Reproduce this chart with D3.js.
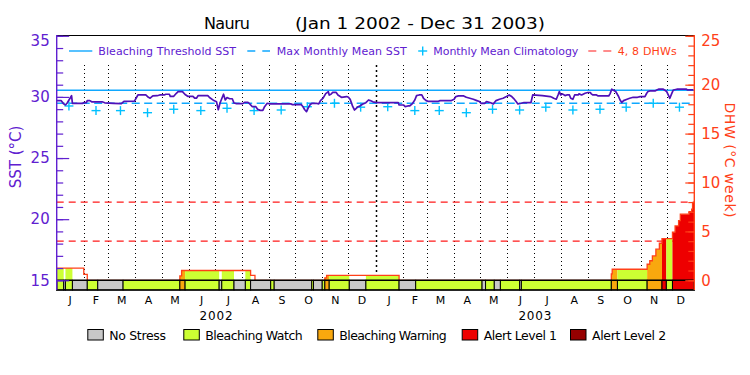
<!DOCTYPE html>
<html><head><meta charset="utf-8">
<script src="https://cdn.jsdelivr.net/npm/d3@7"></script>
<style>body{margin:0;background:#fff}svg{display:block}text{font-family:"DejaVu Sans",sans-serif}</style>
</head><body><svg id="c" width="750" height="375"></svg>
<script>
// ---------------- data ----------------
const monthLetters = ["J","F","M","A","M","J","J","A","S","O","N","D"];
const yearLabels = ["2002","2003"];
const sstMajorTicks = [15,20,25,30,35];
const dhwMajorTicks = [0,5,10,15,20,25];
// SST (days since Jan 1 2002, value °C)
const sstDay = [0,5,8,10,12,17,18,30,31,34,35,38,40,52,55,65,74,77,89,93,102,105,107,110,115,118,123,125,129,130,134,137,139,144,147,150,156,158,160,162,173,175,180,183,185,187,191,193,195,198,201,203,206,213,215,219,221,224,228,230,233,236,238,241,244,268,270,280,282,284,286,288,290,292,297,300,302,305,308,311,312,314,316,320,322,326,332,334,336,339,341,343,345,347,350,354,357,359,362,366,391,392,397,399,402,404,407,410,412,415,418,420,423,425,437,439,452,455,457,460,466,469,473,477,481,484,486,490,492,496,500,503,507,511,515,518,521,523,526,528,532,535,543,545,556,565,567,569,572,574,575.5,577,579,582,584,587,588.5,591,593,597,598,601,605,608,611,612,614,618,620,632,633.5,635.5,637,640,643,645,647,649,653,656,660,665,668,673.5,675.5,677,679,685,687,689,694.5,696,698.4,700.2,702,704,706,710,721,722,729];
const sstValue = [29.7,29.7,29.43,29.34,29.5,30.1,29.48,29.48,29.53,29.53,29.7,29.7,29.6,29.6,29.52,29.48,29.45,29.64,29.66,30.16,30.16,29.97,29.9,30.08,30.1,30.16,30.16,30.22,30.22,30.05,30.05,30.3,30.43,30.43,30.2,30.05,30.05,29.9,29.9,30.11,30.11,29.95,29.7,29.6,28.95,29.5,30.22,29.75,29.95,29.85,29.85,29.5,29.45,29.45,29.55,29.55,29.43,29.2,29.2,29.0,28.9,28.9,29.2,29.48,29.43,29.43,29.37,29.37,29.2,28.95,28.8,29.1,29.35,29.48,29.48,29.43,29.7,29.9,30.27,30.43,30.15,30.22,30.37,30.37,30.16,29.97,30.03,29.97,29.8,29.2,28.93,29.07,29.2,29.25,29.4,29.53,29.75,29.7,29.6,29.54,29.54,29.34,29.34,29.21,29.26,29.26,29.43,29.75,30.11,30.16,30.16,29.89,29.7,29.64,29.64,29.7,29.7,29.81,30.03,30.08,30.08,29.97,29.89,29.81,29.7,29.62,29.48,29.48,29.62,29.54,29.43,29.7,29.81,29.89,30.03,30.16,30.03,29.89,29.62,29.43,29.48,29.54,29.54,30.16,30.1,30.03,29.97,29.89,29.81,30.16,30.44,30.16,30.25,30.11,30.16,30.16,29.89,29.81,30.16,30.16,30.25,30.16,30.3,30.36,30.36,30.25,30.16,30.16,30.08,30.08,30.25,30.63,30.57,30.44,30.08,29.75,29.54,29.7,29.81,29.89,29.97,29.97,30.03,30.03,30.3,30.44,30.49,30.49,30.57,30.63,30.63,30.57,30.44,30.16,29.89,30.25,30.57,30.63,30.63,30.57,30.57];
// Monthly mean climatology, Jan 2002 .. Dec 2003
const climValue = [29.26,28.88,28.88,28.71,28.99,28.88,29.07,28.88,28.93,29.2,29.48,29.16,
                   29.2,28.88,28.88,28.71,28.99,28.93,29.16,28.93,28.99,29.16,29.48,29.16];
const mmmValue = 29.48;
const thresholdValue = 30.55;
const dhwLevels = [4, 8];
// Daily stress level segments (start day, level 0..4)
const statusStart = [0,8,10,18,35,47,76,141,147,186,189,203,216,222,245,249,292,294,304,307,312,335,354,392,411,487,491,501,508,530,532,635,642,676,693,698,705];
const statusLevel = [1,0,1,0,1,0,1,2,1,0,1,0,1,0,1,0,1,0,1,2,1,0,1,0,1,0,1,0,1,0,1,2,1,2,3,1,3];
// Degree heating weeks (step start day, value)
const dhwStart = [0,31,35,141,143,222,227,307,309,392,635,636,676,679,682,686,690,693,705,708,712,714,724,727,728];
const dhwValue = [1.25,0.6,0,0.45,1.0,0.5,0,0.25,0.5,0,0.65,1.13,1.64,2.0,2.49,3.18,3.79,4.26,4.92,5.56,6.1,6.76,7.03,7.27,7.95];
const totalDays = 730;
const statusNames = ["No Stress","Bleaching Watch","Bleaching Warning","Alert Level 1","Alert Level 2"];
const statusColors = ["#c8c8c8","#ccff33","#f9a80e","#ee0000","#960000"];

// ---------------- layout ----------------
const X0 = 56.7, X1 = 694.3, YT = 35.8, YB = 280.3, YBAR = 290;
const PURPLE = "#6020d0", LINE = "#5010b8", BLUE = "#10a8ff", CYAN = "#00c0ff", ORANGE = "#ff4018", RED = "#ff1a1a";
const FONT = '"DejaVu Sans",sans-serif';

const svg = d3.select("#c");
const t0 = Date.UTC(2002,0,1);
const dayToDate = d => new Date(t0 + d*864e5);
const x = d3.scaleUtc().domain([dayToDate(0), dayToDate(totalDays)]).range([X0, X1]);
const xd = d => x(dayToDate(d));
const yS = d3.scaleLinear().domain([15,35]).range([YB, YT]);
const yD = d3.scaleLinear().domain([0,25]).range([YB, YT]);

// title
svg.append("text").attr("x",204).attr("y",29.3).attr("font-size",16).attr("textLength",46).text("Nauru");
svg.append("text").attr("x",295).attr("y",29.3).attr("font-size",16).attr("textLength",250).attr("lengthAdjust","spacingAndGlyphs").text("(Jan 1 2002 - Dec 31 2003)");

// top border
svg.append("line").attr("x1",X0).attr("x2",X1).attr("y1",35.5).attr("y2",35.5).attr("stroke","#000").attr("stroke-width",1.2);

// month grid lines
const monthStarts = d3.utcMonth.range(new Date(Date.UTC(2002,1,1)), new Date(Date.UTC(2004,0,1)));
svg.append("g").selectAll("line").data(monthStarts).join("line")
  .attr("x1",d=>Math.round(x(d))+0.5).attr("x2",d=>Math.round(x(d))+0.5)
  .attr("y1",65).attr("y2",YB)
  .attr("stroke","#000")
  .attr("stroke-width",d=>d.getUTCMonth()===0?1.5:1)
  .attr("stroke-dasharray",d=>d.getUTCMonth()===0?"2,3":"1,3");

// DHW reference lines
svg.append("g").selectAll("line").data(dhwLevels).join("line")
  .attr("x1",X0).attr("x2",X1).attr("y1",d=>yD(d)).attr("y2",d=>yD(d))
  .attr("stroke",RED).attr("stroke-width",1.2).attr("stroke-dasharray","7,5");

// DHW value lookup
function dhwAt(day){ let v = 0; for (let i=0;i<dhwStart.length;i++){ if (dhwStart[i] <= day) v = dhwValue[i]; } return v; }

// DHW fill coloured by status
const area = d3.area().x(p=>xd(p[0])).y0(yD(0)).y1(p=>yD(p[1])).curve(d3.curveStepAfter);
statusStart.forEach((s,i)=>{
  const lvl = statusLevel[i]; if (lvl===0) return;
  const e = i+1<statusStart.length ? statusStart[i+1] : totalDays;
  const pts = [[s, dhwAt(s)]];
  dhwStart.forEach(b=>{ if (b>s && b<e) pts.push([b, dhwAt(b)]); });
  pts.push([e, dhwAt(e-0.01)]);
  svg.append("path").attr("d",area(pts)).attr("fill",statusColors[lvl]).attr("stroke","none");
});

// DHW outline
const dhwPts = dhwStart.map((d,i)=>[d,dhwValue[i]]).concat([[totalDays, dhwValue[dhwValue.length-1]]]);
svg.append("path").attr("d", d3.line().x(p=>xd(p[0])).y(p=>yD(p[1])).curve(d3.curveStepAfter)(dhwPts))
  .attr("fill","none").attr("stroke",ORANGE).attr("stroke-width",1.3);

// status bar
svg.append("g").selectAll("rect").data(statusStart).join("rect")
  .attr("x",(d)=>xd(d))
  .attr("width",(d,i)=>xd(i+1<statusStart.length?statusStart[i+1]:totalDays)-xd(d))
  .attr("y",YB).attr("height",YBAR-YB)
  .attr("fill",(d,i)=>statusColors[statusLevel[i]])
  .attr("stroke","#000").attr("stroke-width",1);
svg.append("rect").attr("x",X0).attr("y",YB).attr("width",X1-X0).attr("height",YBAR-YB)
  .attr("fill","none").attr("stroke","#000").attr("stroke-width",1.4);

// threshold and MMM
svg.append("line").attr("x1",X0).attr("x2",X1).attr("y1",yS(thresholdValue)).attr("y2",yS(thresholdValue))
  .attr("stroke",BLUE).attr("stroke-width",1.4);
svg.append("line").attr("x1",X0).attr("x2",X1).attr("y1",yS(mmmValue)).attr("y2",yS(mmmValue))
  .attr("stroke",BLUE).attr("stroke-width",1.4).attr("stroke-dasharray","8,4.5");

// climatology crosses (mid-month)
const climDates = d3.range(24).map(i=>new Date(Date.UTC(2002+Math.floor(i/12), i%12, 15)));
const cg = svg.append("g").attr("stroke",CYAN).attr("stroke-width",1.4);
climValue.forEach((v,i)=>{
  const cx = x(climDates[i]), cy = yS(v);
  cg.append("line").attr("x1",cx-4.5).attr("x2",cx+4.5).attr("y1",cy).attr("y2",cy);
  cg.append("line").attr("x1",cx).attr("x2",cx).attr("y1",cy-4.5).attr("y2",cy+4.5);
});

// SST line
svg.append("path").attr("d", d3.line().x((d,i)=>xd(sstDay[i])).y((d,i)=>yS(sstValue[i]))(sstValue))
  .attr("fill","none").attr("stroke",LINE).attr("stroke-width",1.7).attr("stroke-linejoin","round");

// axes
function styleAxis(g, color, fs){
  g.select(".domain").remove();
  g.selectAll("line").attr("stroke",color).attr("stroke-width",1.2);
  g.selectAll("text").attr("fill",color).attr("font-size",fs).attr("font-family",FONT);
}
const gLmin = svg.append("g").attr("transform",`translate(${X0},0)`)
  .call(d3.axisLeft(yS).tickValues(d3.range(15,36,1)).tickSize(-6.5).tickFormat(""));
styleAxis(gLmin, PURPLE, 15);
const gL = svg.append("g").attr("transform",`translate(${X0},0)`)
  .call(d3.axisLeft(yS).tickValues(sstMajorTicks).tickSize(-12.5).tickPadding(7));
styleAxis(gL, PURPLE, 15);
gL.selectAll(".tick text").filter(d=>d===35).attr("dy","0.65em");
svg.append("line").attr("x1",X0).attr("x2",X0).attr("y1",35).attr("y2",YBAR).attr("stroke",PURPLE).attr("stroke-width",1.4);

const gRmin = svg.append("g").attr("transform",`translate(${X1},0)`)
  .call(d3.axisRight(yD).tickValues(d3.range(0,26,1)).tickSize(-6).tickFormat(""));
styleAxis(gRmin, ORANGE, 15);
const gR = svg.append("g").attr("transform",`translate(${X1},0)`)
  .call(d3.axisRight(yD).tickValues(dhwMajorTicks).tickSize(-9).tickPadding(7));
styleAxis(gR, ORANGE, 15);
gR.selectAll(".tick text").filter(d=>d===25).attr("dy","0.65em");
svg.append("line").attr("x1",X1).attr("x2",X1).attr("y1",35).attr("y2",YBAR).attr("stroke",ORANGE).attr("stroke-width",1.4);

// axis titles
svg.append("text").attr("transform","translate(21,157) rotate(-90)").attr("text-anchor","middle")
  .attr("fill",PURPLE).attr("font-size",15).text("SST (°C)");
svg.append("text").attr("transform","translate(725,160) rotate(90)").attr("text-anchor","middle")
  .attr("fill",ORANGE).attr("font-size",14).attr("textLength",115).text("DHW (°C week)");

// month and year labels
const monthAll = d3.utcMonth.range(new Date(Date.UTC(2002,0,1)), new Date(Date.UTC(2004,0,1)));
svg.append("g").selectAll("text").data(monthAll).join("text")
  .attr("x",d=>(x(d)+x(d3.utcMonth.offset(d,1)))/2).attr("y",303.5)
  .attr("text-anchor","middle").attr("font-size",11).text(d=>monthLetters[d.getUTCMonth()]);
svg.append("g").selectAll("text").data(yearLabels).join("text")
  .attr("x",(d,i)=>(x(new Date(Date.UTC(2002+i,0,1)))+x(new Date(Date.UTC(2003+i,0,1))))/2).attr("y",320)
  .attr("text-anchor","middle").attr("font-size",12).attr("textLength",33).text(d=>d);

// top legend
const lg = svg.append("g");
lg.append("line").attr("x1",69).attr("x2",92.3).attr("y1",51).attr("y2",51).attr("stroke",BLUE).attr("stroke-width",1.4);
lg.append("text").attr("x",98.3).attr("y",55).attr("font-size",11).attr("fill",PURPLE).attr("textLength",137.7).text("Bleaching Threshold SST");
lg.append("line").attr("x1",247.3).attr("x2",270).attr("y1",51).attr("y2",51).attr("stroke",BLUE).attr("stroke-width",1.4).attr("stroke-dasharray","8,7");
lg.append("text").attr("x",276.7).attr("y",55).attr("font-size",11).attr("fill",PURPLE).attr("textLength",130).text("Max Monthly Mean SST");
lg.append("line").attr("x1",418.2).attr("x2",427.2).attr("y1",51).attr("y2",51).attr("stroke",CYAN).attr("stroke-width",1.4);
lg.append("line").attr("x1",422.7).attr("x2",422.7).attr("y1",46.5).attr("y2",55.5).attr("stroke",CYAN).attr("stroke-width",1.4);
lg.append("text").attr("x",433.3).attr("y",55).attr("font-size",11).attr("fill",PURPLE).attr("textLength",145).text("Monthly Mean Climatology");
lg.append("line").attr("x1",588.3).attr("x2",611.7).attr("y1",51).attr("y2",51).attr("stroke",RED).attr("stroke-width",1.2).attr("stroke-dasharray","8,7");
lg.append("text").attr("x",617.7).attr("y",55).attr("font-size",11).attr("fill",ORANGE).attr("textLength",59).text("4, 8 DHWs");

// bottom legend
const legX = [87.3,183.3,317.3,461.7,570];
const legW = [56.7,97.4,107.4,73.3,74.3];
const bl = svg.append("g");
statusNames.forEach((n,i)=>{
  bl.append("rect").attr("x",legX[i]+0.5).attr("y",329.5).attr("width",15.5).attr("height",10.5)
    .attr("fill",statusColors[i]).attr("stroke","#000").attr("stroke-width",1);
  bl.append("text").attr("x",legX[i]+22).attr("y",340).attr("font-size",12.5).attr("textLength",legW[i]).text(n);
});
</script></body></html>
